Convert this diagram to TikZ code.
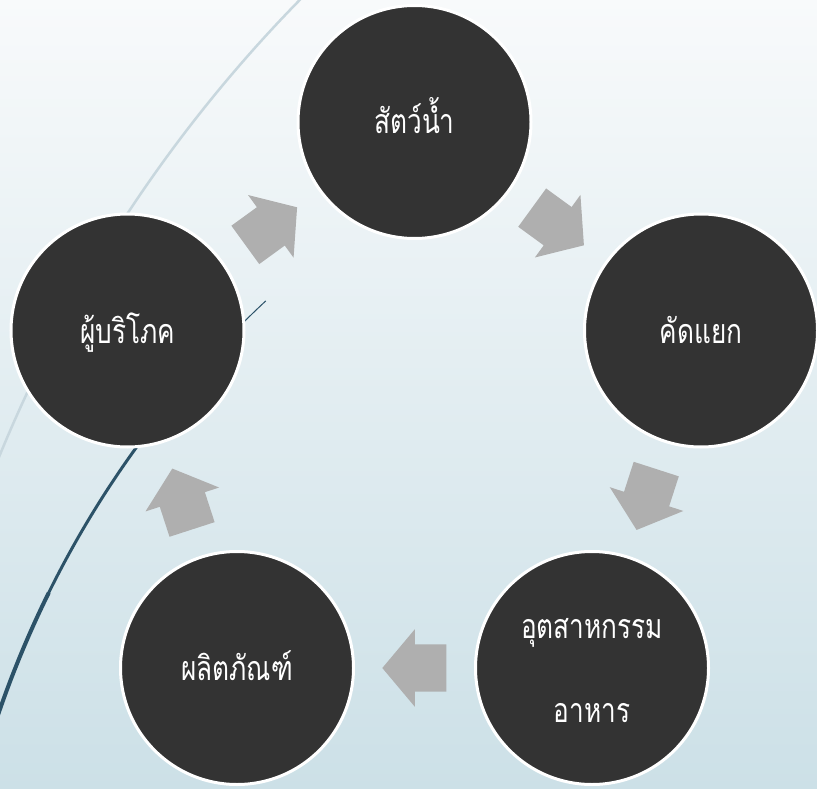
\documentclass[tikz,border=0pt]{standalone}
\usepackage{fontspec}
\newfontfamily\thaifont[Script=Thai,FakeStretch=0.77]{Loma}
\usetikzlibrary{shapes.arrows}
\definecolor{bgtop}{RGB}{248,250,251}
\definecolor{bgbot}{RGB}{204,224,231}
\definecolor{circfill}{RGB}{51,51,51}
\definecolor{arrgray}{RGB}{175,175,175}
\definecolor{lightarc}{RGB}{200,215,222}
\definecolor{darkarc}{RGB}{44,82,104}
\begin{document}
\begin{tikzpicture}[x=1pt,y=-1pt,
  stage/.style={circle, fill=circfill, draw=white, line width=3pt, minimum size=233pt, inner sep=0pt},
  lbl/.style={text=white, font=\thaifont\fontsize{34}{40}\selectfont, anchor=base, inner sep=0pt},
  blockarr/.style={single arrow, fill=arrgray, draw=none, minimum height=64pt, minimum width=77pt,
    single arrow head extend=15pt, single arrow tip angle=100, inner xsep=0pt, inner ysep=23.5pt,
    text height=0pt, text depth=0pt, sloped, allow upside down, anchor=tail, pos=0.231}]
\begin{scope}[y=1pt]
  \fill[top color=bgtop, bottom color=bgbot] (0,-789) rectangle (817,0);
\end{scope}
\useasboundingbox (0,0) rectangle (817,789);
\clip (0,0) rectangle (817,789);
% background arcs
\draw[lightarc, line width=2.5pt] (1316,996) ++(228:1423) arc[start angle=228, end angle=198, radius=1423];
\draw[darkarc, line width=1pt] (956,1041) ++(227:1012) arc[start angle=227, end angle=222, radius=1012];
\draw[darkarc, line width=3pt] (956,1041) ++(217:1012) arc[start angle=217, end angle=206, radius=1012];
\draw[darkarc, line width=4pt] (956,1041) ++(206.3:1012) arc[start angle=206.3, end angle=188, radius=1012];
% stages
\node[stage] (T)  at (414.5,122) {};
\node[stage] (R)  at (701,330.5) {};
\node[stage] (BR) at (592,668) {};
\node[stage] (BL) at (237,668) {};
\node[stage] (L)  at (127.5,330.5) {};
% labels
\node[lbl] (tT)  at (414.5,134) {สัตว์น้ำ};
\node[lbl] (tR)  at (701,343) {คัดแยก};
\node[lbl] (tBR1) at (592,638) {อุตสาหกรรม};
\node[lbl] (tBR2) at (592,722) {อาหาร};
\node[lbl] (tBL) at (237,680) {ผลิตภัณฑ์};
\node[lbl] (tL)  at (127.5,343) {ผู้บริโภค};
% block arrows
\path (L)  -- node[blockarr] (a1) {} (T);
\path (T)  -- node[blockarr] (a2) {} (R);
\path (R)  -- node[blockarr] (a3) {} (BR);
\path (BR) -- node[blockarr] (a4) {} (BL);
\path (BL) -- node[blockarr] (a5) {} (L);
\end{tikzpicture}
\end{document}
